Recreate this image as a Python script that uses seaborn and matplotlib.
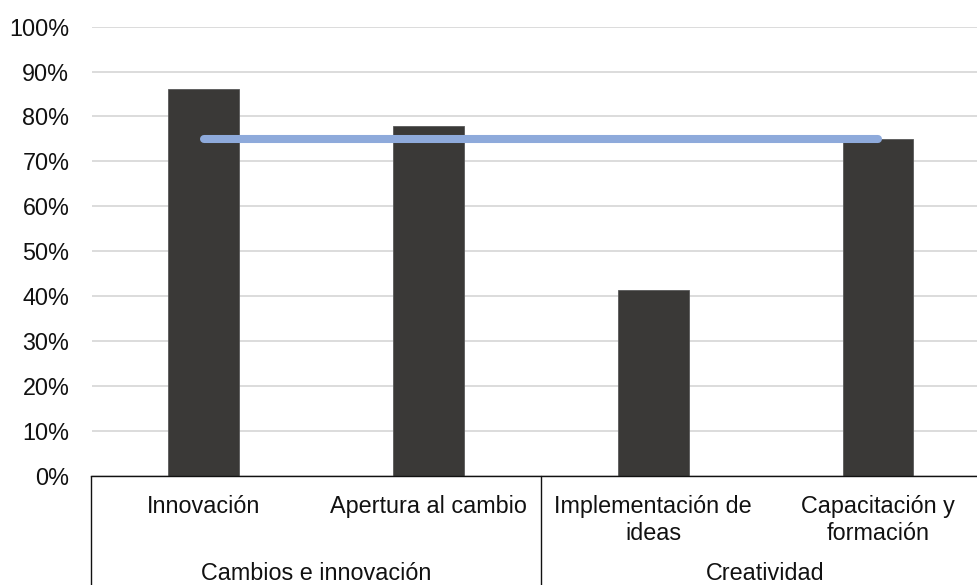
import matplotlib
matplotlib.use("Agg")
import matplotlib.pyplot as plt
import matplotlib.transforms as mtransforms
from matplotlib.ticker import PercentFormatter, MultipleLocator
import pandas as pd
import seaborn as sns

# Data
groups = ["Cambios e innovación", "Cambios e innovación", "Creatividad", "Creatividad"]
categories = ["Innovación", "Apertura al cambio", "Implementación de\nideas", "Capacitación y\nformación"]
valores = [0.861, 0.778, 0.414, 0.75]
meta = [0.75, 0.75, 0.75, 0.75]
group_names = ["Cambios e innovación", "Creatividad"]

df = pd.DataFrame({"grupo": groups, "categoria": categories, "valor": valores, "meta": meta})

sns.set_theme(style="white")
plt.rcParams["font.family"] = ["Liberation Sans", "DejaVu Sans"]

W, H, DPI = 977, 585, 100
fig = plt.figure(figsize=(W / DPI, H / DPI), dpi=DPI)
ax_left, ax_right = 91.5, 990.3
ax_top, ax_bottom = 26.7, 475.7
ax = fig.add_axes([ax_left / W, (H - ax_bottom) / H,
                   (ax_right - ax_left) / W, (ax_bottom - ax_top) / H])

bar_color = "#3a3937"
line_color = "#8eaadb"
text_color = "#111111"
fs = 16.8

sns.barplot(data=df, x="categoria", y="valor", color=bar_color, width=0.315,
            edgecolor="#595959", linewidth=0.6, saturation=1, ax=ax, zorder=2)
sns.lineplot(x=list(range(len(categories))), y=df["meta"].tolist(), sort=False,
             color=line_color, linewidth=5.8, ax=ax, zorder=3,
             solid_capstyle="round")

ax.set_xlim(-0.5, len(categories) - 0.5)
ax.set_ylim(0, 1.0)
ax.yaxis.set_major_locator(MultipleLocator(0.1))
ax.yaxis.set_major_formatter(PercentFormatter(1.0, decimals=0))
ax.grid(axis="y", color="#d9d9d9", linewidth=1.3, zorder=0)
ax.set_axisbelow(True)
ax.tick_params(axis="y", length=0, pad=16, labelsize=fs, labelcolor=text_color)
ax.tick_params(axis="x", length=0, labelbottom=False)
ax.set_xlabel("")
ax.set_ylabel("")
for side in ["top", "right", "left"]:
    ax.spines[side].set_visible(False)
ax.spines["bottom"].set_color(text_color)
ax.spines["bottom"].set_linewidth(1.0)

# Two-level category labels below the axis
xt = ax.get_xaxis_transform()
def below(px):
    return mtransforms.offset_copy(xt, fig=fig, x=0, y=-px, units="dots")

line_gap = 27
for i, lab in enumerate(categories):
    for j, part in enumerate(lab.split("\n")):
        ax.text(i, 0, part, transform=below(37.6 + j * line_gap), ha="center",
                va="baseline", fontsize=fs, color=text_color, clip_on=False)

for k, name in enumerate(group_names):
    idx = [i for i, g in enumerate(groups) if g == name]
    xc = (min(idx) + max(idx)) / 2
    ax.text(xc, 0, name, transform=below(104.5), ha="center", va="baseline",
            fontsize=fs, color=text_color, clip_on=False)

# Vertical separators of the category table
bounds = [-0.5] + [i + 0.5 for i in range(len(groups) - 1) if groups[i] != groups[i + 1]] + [len(groups) - 0.5]
for b in bounds:
    ax.plot([b, b], [0, -(H - ax_bottom) / (ax_bottom - ax_top)], transform=xt,
            color=text_color, linewidth=1.0, clip_on=False)

fig.savefig("out.png", dpi=DPI)
